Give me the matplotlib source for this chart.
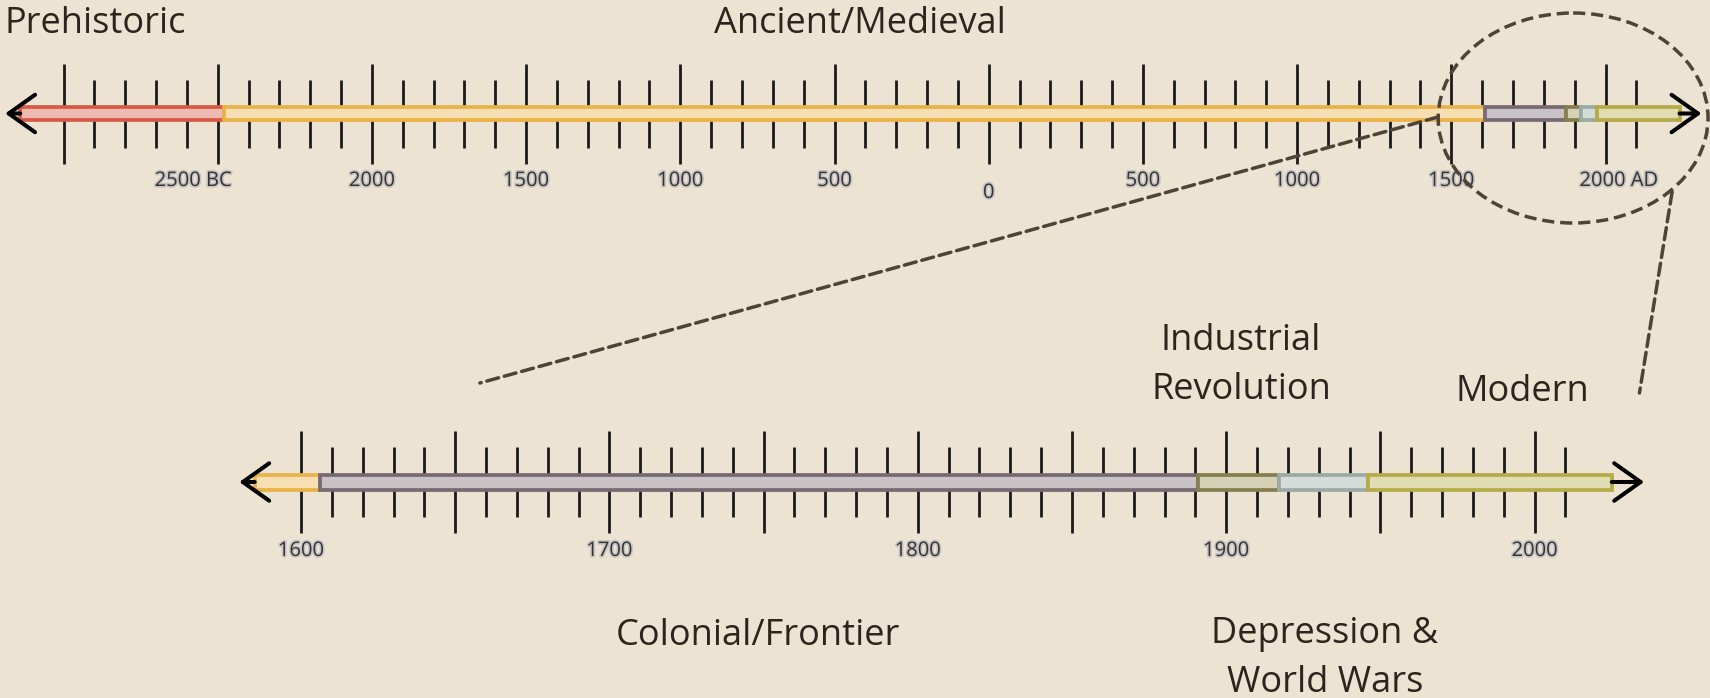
#Timeline of eras with a zoomed-in view of the last 400 years
import matplotlib.pyplot as plt
import matplotlib.patheffects as pe
from matplotlib.patches import Ellipse, ConnectionPatch

# top timeline: ticks and labels (years, negative = BC)
top_major = list(range(-3000, 2001, 500))
top_minor = [y for y in range(-3000, 2101, 100) if y % 500 != 0]
top_labels = ["", "2500 BC", "2000", "1500", "1000", "500", "0", "500", "1000", "1500", "2000 AD"]

# top timeline: era segments (schematic, recent eras widened)
top_edges = [-3140, -2480, 1609, 1873, 1922, 1973, 2240]

# bottom timeline: ticks and labels
bot_major = list(range(1600, 2001, 50))
bot_minor = [y for y in range(1600, 2011, 10) if y % 50 != 0]
bot_label_years = [1600, 1700, 1800, 1900, 2000]
bot_labels = ["1600", "1700", "1800", "1900", "2000"]

# bottom timeline: era segments
bot_edges = [1585, 1606, 1891, 1917, 1946, 2025]

# era colours (edge, face)
era_colors = {
    "Prehistoric": ("#d65a45", "#edbbb1"),
    "Ancient/Medieval": ("#e9b347", "#f6dfb2"),
    "Colonial/Frontier": ("#776a72", "#c9c2c5"),
    "Industrial Revolution": ("#857f4e", "#d5d1b6"),
    "Depression & World Wars": ("#9aaba5", "#d5dcd7"),
    "Modern": ("#b6ab48", "#e0ddb4"),
}
top_eras = ["Prehistoric", "Ancient/Medieval", "Colonial/Frontier",
            "Industrial Revolution", "Depression & World Wars", "Modern"]
bot_eras = ["Ancient/Medieval", "Colonial/Frontier", "Industrial Revolution",
            "Depression & World Wars", "Modern"]

BG = "#ede3d2"
INK = "#2b251d"
DASH = "#4e4336"
W, H = 1710, 698

plt.rcParams['font.family'] = ['Open Sans', 'DejaVu Sans']

fig = plt.figure(figsize=(W / 100, H / 100), dpi=100, facecolor=BG)


def make_axes(x0_px, year0, px_per_year):
    ax = fig.add_axes([0, 0, 1, 1], facecolor='none')
    ax.set_xlim(year0 - x0_px / px_per_year, year0 + (W - x0_px) / px_per_year)
    ax.set_ylim(H, 0)
    ax.axis('off')
    return ax


def draw_line(ax, major, minor, edges, eras, ybar, hbar, major_span, minor_span, tips):
    ax.vlines(major, *major_span, color="#1b1b1b", lw=2.0, zorder=2)
    ax.vlines(minor, *minor_span, color="#1b1b1b", lw=2.0, zorder=2)
    for i, era in enumerate(eras):
        ec, fc = era_colors[era]
        ax.barh(ybar, edges[i + 1] - edges[i], left=edges[i], height=hbar,
                color=fc, edgecolor=ec, linewidth=2.7, zorder=3)
    for start, tip in tips:
        ax.annotate("", xy=(tip, ybar), xytext=(start, ybar), zorder=4,
                    arrowprops=dict(arrowstyle="->,head_length=1.9,head_width=1.35",
                                    mutation_scale=10, lw=2.9, color="black",
                                    shrinkA=0, shrinkB=0))


label_fx = [pe.withStroke(linewidth=2.4, foreground="#c9c4c4")]

# top timeline
ax_top = make_axes(988.7, 0, 0.3084)
draw_line(ax_top, top_major, top_minor, top_edges, top_eras, 113.5, 12.5,
          (64, 164), (80, 148), [(-3140, -3189), (2240, 2311)])
for yr, lab in zip(top_major, top_labels):
    if not lab:
        continue
    ha, dx, y = "center", 0, 181
    if lab.endswith("BC"):
        ha, dx = "right", 14
    elif lab.endswith("AD"):
        ha, dx = "left", -26
    elif lab == "0":
        y = 193
    ax_top.annotate(lab, xy=(yr, y), xytext=(dx, 0), textcoords="offset pixels",
                    ha=ha, va="center", fontsize=14.5, color="#333333",
                    path_effects=label_fx)

# bottom timeline
ax_bot = make_axes(301, 1600, 3.084)
draw_line(ax_bot, bot_major, bot_minor, bot_edges, bot_eras, 482, 15,
          (431, 533), (447, 517), [(1585, 1580), (2025, 2035.5)])
for yr, lab in zip(bot_label_years, bot_labels):
    ax_bot.annotate(lab, xy=(yr, 551), ha="center", va="center", fontsize=14.5,
                    color="#333333", path_effects=label_fx)

# zoom callout
ax_top.add_patch(Ellipse((1895, 118), 875, 210, fill=False, edgecolor=DASH,
                         lw=2.5, linestyle=(0, (3.5, 1.7)), zorder=5))
for (ya, yya), (yb, yyb) in [((1457, 117), (1658, 383)), ((2216, 192), (2034, 393))]:
    fig.add_artist(ConnectionPatch((ya, yya), (yb, yyb), coordsA=ax_top.transData,
                                   coordsB=ax_bot.transData, color=DASH, lw=2.5,
                                   linestyle=(0, (3.5, 1.7)), zorder=5))

# era names
era_text = [
    ("Prehistoric", 5, 33, "left"),
    ("Ancient/Medieval", 860, 33, "center"),
    ("Industrial\nRevolution", 1241, 350, "center"),
    ("Modern", 1522, 401, "center"),
    ("Colonial/Frontier", 758, 645, "center"),
    ("Depression &\nWorld Wars", 1325, 643, "center"),
]
for txt, x, y, ha in era_text:
    lines = txt.split("\n")
    for k, line in enumerate(lines):
        fig.text(x / W, 1 - (y + 49 * k) / H, line, ha=ha, va="baseline",
                 fontsize=26, color=INK)

fig.savefig("out.png", dpi=100, facecolor=BG)
